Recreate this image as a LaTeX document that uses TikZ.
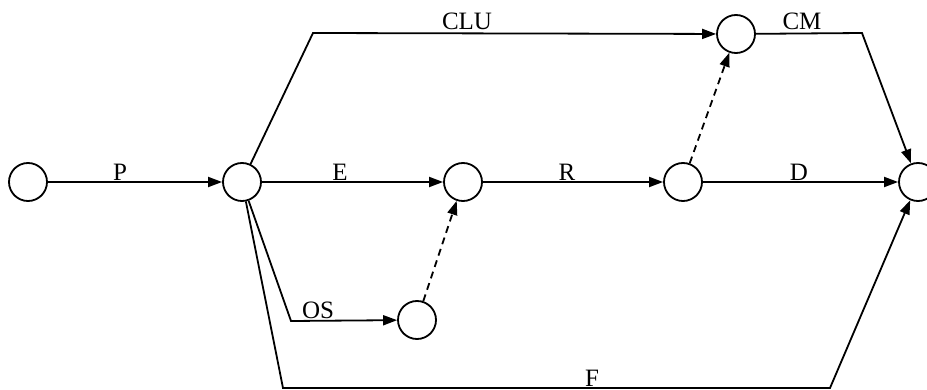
\documentclass[tikz,border=0pt]{standalone}
\usepackage{fontspec}
\setmainfont{Liberation Serif}
\usetikzlibrary{arrows.meta}
\begin{document}
\begin{tikzpicture}[x=1pt,y=-1pt,
  ev/.style={circle,draw,line width=1.8pt,minimum size=38pt,inner sep=0pt},
  act/.style={line width=1.8pt,-{Triangle[length=14pt,width=10pt]}},
  dum/.style={act,dash pattern=on 7pt off 5pt},
  lbl/.style={font=\fontsize{25}{28}\selectfont,inner sep=0pt}]
\useasboundingbox (0,0) rectangle (927,390);
\node[ev] (n1) at (28,182) {};
\node[ev] (n2) at (242,182) {};
\node[ev] (n3) at (463,182) {};
\node[ev] (n4) at (683,182) {};
\node[ev] (n5) at (736,34) {};
\node[ev] (n6) at (918,182) {};
\node[ev] (n7) at (417,320) {};
\coordinate (c1) at (313,33);
\coordinate (c2) at (291,321);
\coordinate (c3) at (283,388);
\coordinate (c4) at (830,388);
\coordinate (c5) at (862,33);
\draw[act] (n1) -- (n2);
\draw[act] (n2) -- (n3);
\draw[act] (n3) -- (n4);
\draw[act] (n4) -- (n6);
\draw[act] (n2) -- (c1) -- (n5);
\draw[act] (n5) -- (c5) -- (n6);
\draw[act] (n2) -- (c2) -- (n7);
\draw[act] (n2) -- (c3) -- (c4) -- (n6);
\draw[dum] (n7) -- (n3);
\draw[dum] (n4) -- (n5);
\node[lbl] (lP) at (120,172) {P};
\node[lbl] (lE) at (340,172) {E};
\node[lbl] (lR) at (567,172) {R};
\node[lbl] (lD) at (799,172) {D};
\node[lbl] (lCLU) at (467,21) {CLU};
\node[lbl] (lCM) at (802,21) {CM};
\node[lbl] (lOS) at (318,310) {OS};
\node[lbl] (lF) at (592,378) {F};
\end{tikzpicture}
\end{document}
